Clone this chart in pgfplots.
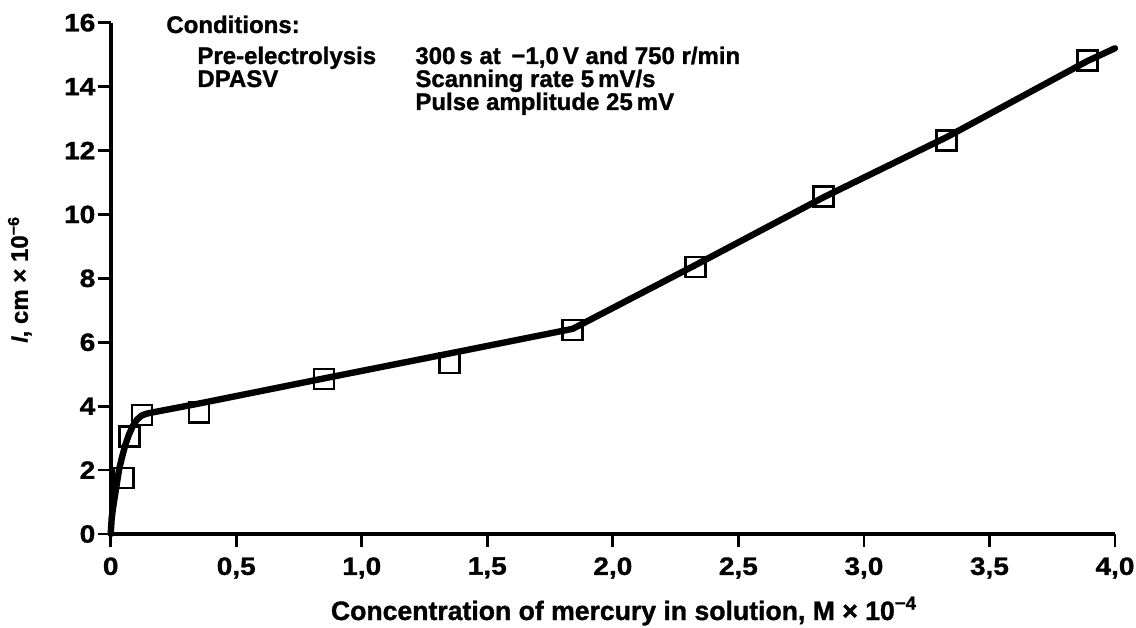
\documentclass[border=0pt]{standalone}
\usepackage{fontspec}
\setmainfont{Liberation Sans}[BoldFeatures={FakeBold=1.2}]
\newfontfamily\tickfont{Liberation Sans}[BoldFeatures={FakeBold=1.2,FakeStretch=1.12}]
\usepackage{pgfplots}
\pgfplotsset{compat=1.18}
\begin{document}
\begin{tikzpicture}[font=\bfseries\fontsize{12}{14}\selectfont]
\useasboundingbox (-55.35pt,-46.5pt) rectangle (512.65pt,267pt);
\begin{axis}[
  scale only axis, width=502.15pt, height=255.65pt,
  at={(0,0)}, anchor=south west,
  xmin=0, xmax=4, ymin=0, ymax=16,
  axis x line=bottom, axis y line=left,
  axis line style={-, line width=1.9pt},
  xtick={0,0.5,1,1.5,2,2.5,3,3.5,4},
  xticklabels={0,{0,5},{1,0},{1,5},{2,0},{2,5},{3,0},{3,5},{4,0}},
  ytick={0,2,4,6,8,10,12,14,16},
  yticklabels={0,2,4,6,8,10,12,14,16},
  tick align=outside,
  major tick length=6.5pt,
  tick style={line width=1.4pt, black},
  ticklabel style={font=\tickfont\bfseries\fontsize{12.5}{14}\selectfont},
  xticklabel style={inner sep=1pt, yshift=-4pt},
  yticklabel style={inner sep=1pt},
  clip=false,
]
\addplot[black, line width=3.2pt, line join=round, line cap=round] coordinates {
  (0,0) (0.004,0.5) (0.01,0.85) (0.017,1.2) (0.025,1.6) (0.033,2.0)
  (0.045,2.4) (0.058,2.78) (0.072,3.1) (0.088,3.38) (0.105,3.58)
  (0.122,3.7) (0.14,3.76) (0.17,3.81) (0.35,4.08) (0.85,4.87)
  (1.35,5.65) (1.84,6.42) (2.33,8.42) (2.84,10.54) (3.33,12.42)
  (3.89,14.8) (4.0,15.2)
};
\addplot[only marks, black, mark=square, mark size=5pt,
  mark options={line width=1.3pt, fill=none}] coordinates {
  (0.05,1.75) (0.075,3.05) (0.125,3.72) (0.352,3.8) (0.85,4.85)
  (1.35,5.35) (1.84,6.38) (2.33,8.36) (2.84,10.57) (3.33,12.32)
  (3.89,14.82)
};
\end{axis}
\begin{scope}[every node/.style={inner sep=0pt, anchor=base west}]
\node at (27.65pt,250.5pt) {Conditions:};
\node at (43.15pt,235pt) {Pre-electrolysis};
\node at (43.15pt,223.5pt) {DPASV};
\node at (152.15pt,235pt) {300\,s at \,−1,0\,V and 750 r/min};
\node at (152.15pt,223.5pt) {Scanning rate 5\,mV/s};
\node at (152.15pt,212pt) {Pulse amplitude 25\,mV};
\end{scope}
\node[rotate=90, anchor=center, font=\bfseries\fontsize{12}{14}\selectfont] at (-45.5pt,127pt) {\textit{I}, cm × 10\textsuperscript{−6}};
\node[anchor=base, font=\bfseries\fontsize{13.3}{15}\selectfont] at (256.65pt,-43pt) {Concentration of mercury in solution, M × 10\textsuperscript{−4}};
\end{tikzpicture}
\end{document}
